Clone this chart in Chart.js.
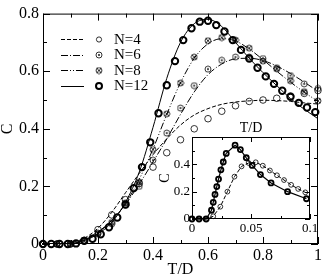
<!DOCTYPE html>
<html>
<head>
<meta charset="utf-8">
<script src="https://cdn.jsdelivr.net/npm/chart.js@4.4.1/dist/chart.umd.min.js"></script>
<style>
  html, body { margin: 0; padding: 0; background: #fff; }
  #wrap { position: relative; width: 324px; height: 278px; }
  #main { position: absolute; left: 0; top: 0; }
  #inset { position: absolute; left: 150px; top: 116px; }
</style>
</head>
<body>
<div id="wrap">
  <canvas id="main" width="324" height="278"></canvas>
  <canvas id="inset" width="174" height="130"></canvas>
</div>
<script>
'use strict';
// ---- data ----
const legendLabels = ['N=4', 'N=6', 'N=8', 'N=12'];

// curves, sampled on T/D
const lineT = [0, 0.05, 0.1, 0.15, 0.2, 0.25, 0.3, 0.35, 0.4, 0.45, 0.5, 0.55, 0.6, 0.65, 0.7, 0.75, 0.8, 0.85, 0.9, 0.95, 1.0];
const lineN4 = [0, 0, 0.004, 0.02, 0.055, 0.11, 0.178, 0.245, 0.31, 0.365, 0.413, 0.448, 0.47, 0.485, 0.493, 0.497, 0.499, 0.498, 0.495, 0.49, 0.486];
const lineN6 = [0, 0, 0.002, 0.015, 0.042, 0.082, 0.138, 0.208, 0.285, 0.365, 0.45, 0.528, 0.588, 0.625, 0.643, 0.645, 0.637, 0.618, 0.592, 0.562, 0.53];
const lineN8 = [0, 0, 0.001, 0.013, 0.04, 0.08, 0.14, 0.225, 0.33, 0.45, 0.56, 0.645, 0.695, 0.713, 0.705, 0.677, 0.64, 0.6, 0.562, 0.527, 0.495];
const lineN12 = [0, 0, 0.001, 0.012, 0.035, 0.075, 0.145, 0.25, 0.405, 0.575, 0.70, 0.765, 0.78, 0.755, 0.70, 0.645, 0.595, 0.55, 0.505, 0.468, 0.435];

// symbols
const dotT = [0, 0.05, 0.1, 0.15, 0.2, 0.25, 0.3, 0.35, 0.4, 0.45, 0.5, 0.55, 0.6, 0.65, 0.7, 0.75, 0.8, 0.85, 0.9, 0.95, 1.0];
const dotN4 = [0, 0, 0, 0.013, 0.05, 0.101, 0.154, 0.21, 0.267, 0.317, 0.362, 0.40, 0.435, 0.461, 0.48, 0.495, 0.50, 0.506, 0.514, 0.523, 0.533];
const dotN6 = [0, 0, 0.001, 0.01, 0.035, 0.07, 0.135, 0.20, 0.291, 0.385, 0.472, 0.55, 0.607, 0.638, 0.649, 0.649, 0.644, 0.612, 0.585, 0.556, 0.54];
const dotN8 = [0, 0, 0.001, 0.012, 0.038, 0.075, 0.143, 0.215, 0.328, 0.452, 0.559, 0.649, 0.706, 0.717, 0.708, 0.68, 0.635, 0.608, 0.567, 0.529, 0.497];
const dotT12 = [0, 0.03, 0.06, 0.09, 0.12, 0.15, 0.18, 0.21, 0.24, 0.27, 0.3, 0.33, 0.36, 0.39, 0.42, 0.45, 0.48, 0.51, 0.54, 0.57,
  0.6, 0.63, 0.66, 0.69, 0.72, 0.75, 0.78, 0.81, 0.84, 0.87, 0.9, 0.93, 0.96, 0.99];
const dotN12 = [0, 0, 0, 0, 0.002, 0.011, 0.018, 0.034, 0.058, 0.092, 0.137, 0.194, 0.267, 0.353, 0.454, 0.551, 0.635, 0.708, 0.749, 0.772,
  0.775, 0.76, 0.738, 0.708, 0.674, 0.644, 0.612, 0.582, 0.556, 0.532, 0.511, 0.49, 0.474, 0.458];

// inset
const insetT4 = [0, 0.006, 0.012, 0.018, 0.024, 0.03, 0.036, 0.042, 0.048, 0.054, 0.06, 0.066, 0.072, 0.078, 0.084, 0.09, 0.096];
const insetN4 = [0, 0, 0, 0.02, 0.09, 0.2, 0.31, 0.385, 0.41, 0.415, 0.39, 0.355, 0.32, 0.285, 0.25, 0.22, 0.195];
const insetT12 = [0, 0.006, 0.012, 0.0165, 0.018, 0.0195, 0.021, 0.0225, 0.0245, 0.0265, 0.029, 0.0365, 0.041, 0.046, 0.051, 0.058, 0.067, 0.081, 0.097];
const insetN12 = [0, 0, 0, 0.064, 0.122, 0.18, 0.237, 0.292, 0.36, 0.417, 0.48, 0.54, 0.508, 0.448, 0.392, 0.325, 0.264, 0.2, 0.148];

// ---- helpers ----
const SERIF = '"Liberation Serif", "Times New Roman", serif';
const dashes = [[4, 2], [7, 2, 1, 2], [7, 2, 1, 2, 1, 2], []];

function pts(xs, ys) {
  return xs.map((x, i) => ({ x: x, y: ys[i] }));
}

function makeMarker(kind, r, lw) {
  let size = 2 * Math.ceil(r + lw);
  let c = document.createElement('canvas');
  c.width = size;
  c.height = size;
  let g = c.getContext('2d');
  let m = size / 2;
  g.strokeStyle = '#000';
  g.lineWidth = lw;
  g.beginPath();
  g.arc(m, m, r, 0, Math.PI * 2);
  g.stroke();
  if (kind === 'dot') {
    g.fillStyle = '#000';
    g.beginPath();
    g.arc(m, m, 0.9, 0, Math.PI * 2);
    g.fill();
  }
  if (kind === 'cross') {
    let d = r * 0.7;
    g.beginPath();
    g.moveTo(m - d, m - d); g.lineTo(m + d, m + d);
    g.moveTo(m + d, m - d); g.lineTo(m - d, m + d);
    g.stroke();
  }
  return c;
}
const markDot = makeMarker('dot', 3, 0.8);
const markCross = makeMarker('cross', 3, 0.8);

function fmt(v) {
  return String(Math.round(v * 1000) / 1000);
}

function lineSet(xs, ys, dash) {
  return {
    data: pts(xs, ys), showLine: true, pointRadius: 0, borderColor: '#000', borderWidth: 1,
    borderDash: dash, cubicInterpolationMode: 'monotone', fill: false
  };
}

// frame + inward ticks on all four sides
function framePlugin(xMinor, yMinor, majLen, minLen) {
  return {
    id: 'frame',
    afterDraw(chart) {
      const { ctx, chartArea: a, scales } = chart;
      const x = scales.x, y = scales.y;
      ctx.save();
      ctx.strokeStyle = '#000';
      ctx.lineWidth = 1;
      ctx.strokeRect(a.left + 0.5, a.top + 0.5, a.right - a.left - 1, a.bottom - a.top - 1);
      ctx.beginPath();
      let majX = x.ticks.map(t => t.value);
      for (let v = x.min; v <= x.max + 1e-9; v += xMinor) {
        let px = Math.round(x.getPixelForValue(v)) + 0.5;
        let len = majX.some(m => Math.abs(m - v) < 1e-9) ? majLen : minLen;
        ctx.moveTo(px, a.bottom); ctx.lineTo(px, a.bottom - len);
        ctx.moveTo(px, a.top); ctx.lineTo(px, a.top + len);
      }
      let majY = y.ticks.map(t => t.value);
      for (let v = y.min; v <= y.max + 1e-9; v += yMinor) {
        let py = Math.round(y.getPixelForValue(v)) + 0.5;
        let len = majY.some(m => Math.abs(m - v) < 1e-9) ? majLen : minLen;
        ctx.moveTo(a.left, py); ctx.lineTo(a.left + len, py);
        ctx.moveTo(a.right, py); ctx.lineTo(a.right - len, py);
      }
      ctx.stroke();
      ctx.restore();
    }
  };
}

const legendPlugin = {
  id: 'legendBox',
  afterDraw(chart) {
    const ctx = chart.ctx;
    ctx.save();
    legendLabels.forEach((lab, i) => {
      let y = 39 + i * 15.5;
      ctx.strokeStyle = '#000';
      ctx.lineWidth = 1;
      ctx.setLineDash(dashes[i]);
      ctx.beginPath();
      ctx.moveTo(61, Math.round(y) + 0.5);
      ctx.lineTo(84, Math.round(y) + 0.5);
      ctx.stroke();
      ctx.setLineDash([]);
      if (i === 0 || i === 3) {
        ctx.lineWidth = i === 3 ? 2 : 0.8;
        ctx.beginPath();
        ctx.arc(99, y + 0.5, i === 3 ? 3 : 2.6, 0, Math.PI * 2);
        ctx.stroke();
      } else {
        let img = i === 1 ? markDot : markCross;
        ctx.drawImage(img, 99 - img.width / 2, y + 0.5 - img.height / 2);
      }
      ctx.fillStyle = '#000';
      ctx.font = '15px ' + SERIF;
      ctx.textBaseline = 'middle';
      ctx.fillText(lab, 114, y + 1);
    });
    ctx.restore();
  }
};

// ---- main chart ----
new Chart(document.getElementById('main').getContext('2d'), {
  type: 'scatter',
  data: {
    datasets: [
      lineSet(lineT, lineN4, dashes[0]),
      lineSet(lineT, lineN6, dashes[1]),
      lineSet(lineT, lineN8, dashes[2]),
      lineSet(lineT, lineN12, dashes[3]),
      { data: pts(dotT, dotN4), pointStyle: 'circle', pointRadius: 3.3, borderWidth: 0.8, borderColor: '#000', backgroundColor: 'rgba(0,0,0,0)', clip: false },
      { data: pts(dotT, dotN6), pointStyle: markDot, clip: false },
      { data: pts(dotT, dotN8), pointStyle: markCross, clip: false },
      { data: pts(dotT12, dotN12), pointStyle: 'circle', pointRadius: 3.2, borderWidth: 2, borderColor: '#000', backgroundColor: 'rgba(0,0,0,0)', clip: false }
    ]
  },
  options: {
    responsive: false,
    animation: false,
    devicePixelRatio: 1,
    layout: { padding: { top: 7, right: 6, left: 0, bottom: 0 } },
    plugins: { legend: { display: false }, tooltip: { enabled: false } },
    scales: {
      x: {
        type: 'linear', min: 0, max: 1,
        grid: { display: false, drawTicks: false },
        border: { display: false },
        ticks: { stepSize: 0.2, autoSkip: false, maxRotation: 0, padding: 2, color: '#000', font: { family: SERIF, size: 16 }, callback: fmt },
        title: { display: true, text: 'T/D', color: '#000', font: { family: SERIF, size: 16, lineHeight: 1 }, padding: { top: 0, bottom: 0 } },
        afterFit: s => { s.height = 34; }
      },
      y: {
        type: 'linear', min: 0, max: 0.8,
        grid: { display: false, drawTicks: false },
        border: { display: false },
        ticks: { stepSize: 0.2, autoSkip: false, padding: 4, color: '#000', font: { family: SERIF, size: 16 }, callback: fmt },
        title: { display: true, text: 'C', color: '#000', font: { family: SERIF, size: 16, lineHeight: 1 }, padding: { top: 0, bottom: 0 } },
        afterFit: s => { s.width = 43; }
      }
    }
  },
  plugins: [framePlugin(0.1, 0.1, 7, 4), legendPlugin]
});

// ---- inset ----
const whiteArea = {
  id: 'whiteArea',
  beforeDraw(chart) {
    const { ctx, chartArea: a } = chart;
    ctx.save();
    ctx.fillStyle = '#fff';
    ctx.fillRect(a.left, a.top, a.right - a.left, a.bottom - a.top);
    ctx.restore();
  }
};

new Chart(document.getElementById('inset').getContext('2d'), {
  type: 'scatter',
  data: {
    datasets: [
      { data: pts(insetT4, insetN4), showLine: true, borderDash: [4, 2], borderWidth: 1, borderColor: '#000',
        pointStyle: 'circle', pointRadius: 2.4, pointBorderWidth: 0.8, backgroundColor: 'rgba(0,0,0,0)', clip: false },
      { data: pts(insetT12, insetN12), showLine: true, borderWidth: 1.2, borderColor: '#000',
        pointStyle: 'circle', pointRadius: 2.5, pointBorderWidth: 1.8, backgroundColor: 'rgba(0,0,0,0)', clip: false }
    ]
  },
  options: {
    responsive: false,
    animation: false,
    devicePixelRatio: 1,
    layout: { padding: { top: 0, right: 14, left: 0, bottom: 0 } },
    plugins: {
      legend: { display: false },
      tooltip: { enabled: false },
      title: { display: true, text: 'T/D', fullSize: false, color: '#000', font: { family: SERIF, size: 14, weight: 'normal', lineHeight: 1.2 }, padding: { top: 3.6, bottom: 0.6 } }
    },
    scales: {
      x: {
        type: 'linear', min: 0, max: 0.1,
        grid: { display: false, drawTicks: false },
        border: { display: false },
        ticks: { stepSize: 0.05, autoSkip: false, maxRotation: 0, padding: 2, color: '#000', font: { family: SERIF, size: 13 }, callback: fmt },
        afterFit: s => { s.height = 27; }
      },
      y: {
        type: 'linear', min: 0, max: 0.6,
        grid: { display: false, drawTicks: false },
        border: { display: false },
        ticks: { stepSize: 0.2, autoSkip: false, padding: 2, color: '#000', font: { family: SERIF, size: 13 },
          callback: v => (v > 0.5 ? null : fmt(v)) },
        title: { display: true, text: 'C', color: '#000', font: { family: SERIF, size: 14, lineHeight: 1.2 }, padding: { top: 7, bottom: 0 } },
        afterFit: s => { s.width = 42; }
      }
    }
  },
  plugins: [whiteArea, framePlugin(0.025, 0.1, 5, 3)]
});
</script>
</body>
</html>
